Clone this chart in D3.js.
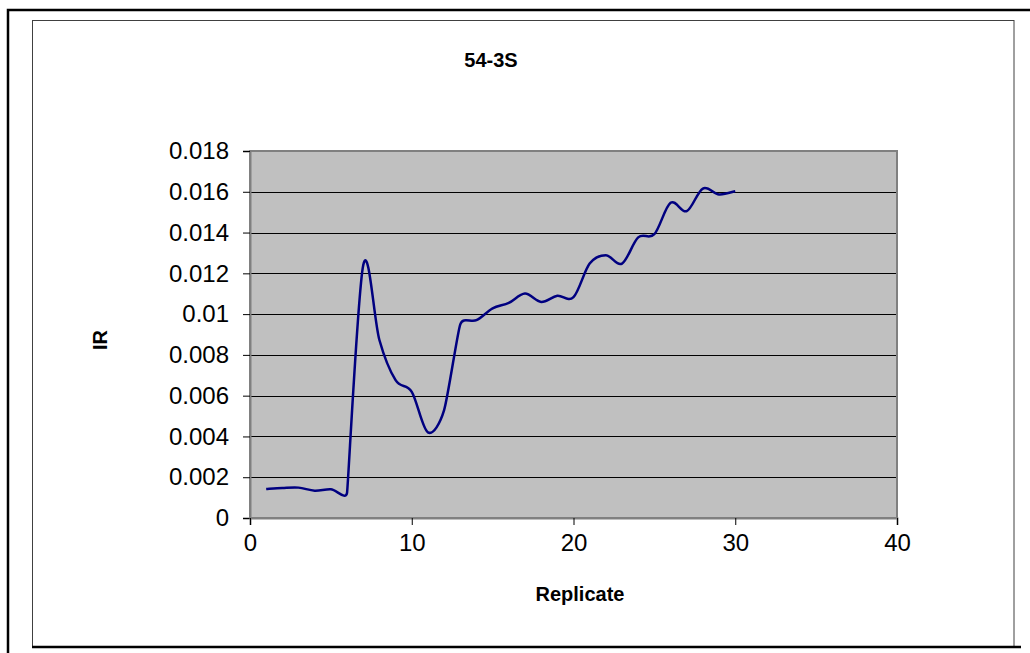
<!DOCTYPE html>
<html>
<head>
<meta charset="utf-8">
<script src="https://cdn.jsdelivr.net/npm/d3@7"></script>
<style>
  html, body { margin: 0; padding: 0; background: #fff; }
  svg { display: block; }
  text { font-family: Arial, "Liberation Sans", sans-serif; fill: #000; }
</style>
</head>
<body>
<script>
// ---- data ----
const replicates = [1,2,3,4,5,6,7,8,9,10,11,12,13,14,15,16,17,18,19,20,21,22,23,24,25,26,27,28,29,30];
const irValues = [0.00142,0.00147,0.00149,0.00134,0.00141,0.00124,0.01240,0.00873,0.00676,0.00619,
                  0.00420,0.00529,0.00950,0.00970,0.01028,0.01055,0.01101,0.01060,0.01090,0.01083,
                  0.01248,0.01289,0.01248,0.01376,0.01392,0.01546,0.01505,0.01616,0.01587,0.01603];
const xTicks = [0,10,20,30,40];
const yTicks = [0,0.002,0.004,0.006,0.008,0.01,0.012,0.014,0.016,0.018];
const yTickLabels = ["0","0.002","0.004","0.006","0.008","0.01","0.012","0.014","0.016","0.018"];
const chartTitle = "54-3S";
const xTitle = "Replicate";
const yTitle = "IR";

// ---- layout ----
const W = 1030, H = 653;
const plot = {left: 250, right: 897, top: 151, bottom: 518};

const svg = d3.select("body").append("svg").attr("width", W).attr("height", H);

// outer frame (partly off-canvas)
svg.append("rect").attr("x", 8).attr("y", 10).attr("width", 1040).attr("height", 660)
  .attr("fill", "none").attr("stroke", "#000").attr("stroke-width", 2.5);
// chart area frame
svg.append("rect").attr("x", 32.5).attr("y", 20.5).attr("width", 981.5).attr("height", 626)
  .attr("fill", "#fff").attr("stroke", "#404040").attr("stroke-width", 1);
svg.append("line").attr("x1", 32).attr("x2", 1021).attr("y1", 647).attr("y2", 647)
  .attr("stroke", "#000").attr("stroke-width", 2.5);

const x = d3.scaleLinear().domain([0, 40]).range([plot.left, plot.right]);
const y = d3.scaleLinear().domain([0, 0.018]).range([plot.bottom, plot.top]);

// plot area
svg.append("rect").attr("x", plot.left).attr("y", plot.top)
  .attr("width", plot.right - plot.left).attr("height", plot.bottom - plot.top)
  .attr("fill", "#c0c0c0");

// gridlines
svg.append("g").selectAll("line").data(yTicks.slice(1, -1)).join("line")
  .attr("x1", plot.left).attr("x2", plot.right)
  .attr("y1", d => Math.round(y(d)) + 0.5).attr("y2", d => Math.round(y(d)) + 0.5)
  .attr("stroke", "#000").attr("stroke-width", 1);

// plot border
svg.append("rect").attr("x", plot.left).attr("y", plot.top)
  .attr("width", plot.right - plot.left).attr("height", plot.bottom - plot.top)
  .attr("fill", "none").attr("stroke", "#808080").attr("stroke-width", 2);

// axes
const yAxis = d3.axisLeft(y).tickValues(yTicks).tickSize(7).tickPadding(14)
  .tickFormat((d, i) => yTickLabels[i]);
const gy = svg.append("g").attr("transform", `translate(${plot.left},0)`).call(yAxis);
gy.select(".domain").attr("stroke", "#808080").attr("stroke-width", 2);
gy.selectAll(".tick line").attr("stroke", "#000");
gy.selectAll("text").style("font-size", "24px").style("font-family", "Arial, 'Liberation Sans', sans-serif").attr("fill", "#000");

const xAxis = d3.axisBottom(x).tickValues(xTicks).tickSize(7).tickPadding(9).tickFormat(d3.format("d"));
const gx = svg.append("g").attr("transform", `translate(0,${plot.bottom})`).call(xAxis);
gx.select(".domain").attr("stroke", "#808080").attr("stroke-width", 2);
gx.selectAll(".tick line").attr("stroke", "#000");
gx.selectAll("text").style("font-size", "24px").style("font-family", "Arial, 'Liberation Sans', sans-serif").attr("fill", "#000");

// Excel-like smoothed curve: Bezier with tangents (P[i+1]-P[i-1])/6,
// handle length limited by the shorter neighbouring segment.
function curveExcelSmooth(context) {
  let pts = [];
  return {
    areaStart() {}, areaEnd() {},
    lineStart() { pts = []; },
    point(px, py) { pts.push([+px, +py]); },
    lineEnd() {
      const n = pts.length;
      if (!n) return;
      context.moveTo(pts[0][0], pts[0][1]);
      if (n === 1) return;
      const dist = (a, b) => Math.hypot(b[0] - a[0], b[1] - a[1]);
      const tan = pts.map((p, i) => {
        const a = pts[Math.max(0, i - 1)], b = pts[Math.min(n - 1, i + 1)];
        let tx = (b[0] - a[0]) / 6, ty = (b[1] - a[1]) / 6;
        const len = Math.hypot(tx, ty);
        const dmin = Math.min(i > 0 ? dist(pts[i - 1], p) : Infinity, i < n - 1 ? dist(p, pts[i + 1]) : Infinity);
        const lim = 0.5 * dmin;
        if (len > lim && len > 0) { tx *= lim / len; ty *= lim / len; }
        return [tx, ty];
      });
      for (let i = 0; i < n - 1; i++) {
        const p0 = pts[i], p1 = pts[i + 1];
        context.bezierCurveTo(p0[0] + tan[i][0], p0[1] + tan[i][1],
                              p1[0] - tan[i + 1][0], p1[1] - tan[i + 1][1],
                              p1[0], p1[1]);
      }
    }
  };
}

// line
const line = d3.line().x((d, i) => x(replicates[i])).y(d => y(d)).curve(curveExcelSmooth);
svg.append("path").datum(irValues).attr("d", line)
  .attr("fill", "none").attr("stroke", "#000080").attr("stroke-width", 2.5)
  .attr("stroke-linejoin", "round");

// titles
svg.append("text").attr("x", 491).attr("y", 67).attr("text-anchor", "middle")
  .style("font-size", "20px").style("font-weight", "bold").text(chartTitle);
svg.append("text").attr("x", 580).attr("y", 601).attr("text-anchor", "middle")
  .style("font-size", "20px").style("font-weight", "bold").text(xTitle);
svg.append("text").attr("transform", "translate(107,340) rotate(-90)").attr("text-anchor", "middle")
  .style("font-size", "20px").style("font-weight", "bold").text(yTitle);
</script>
</body>
</html>
